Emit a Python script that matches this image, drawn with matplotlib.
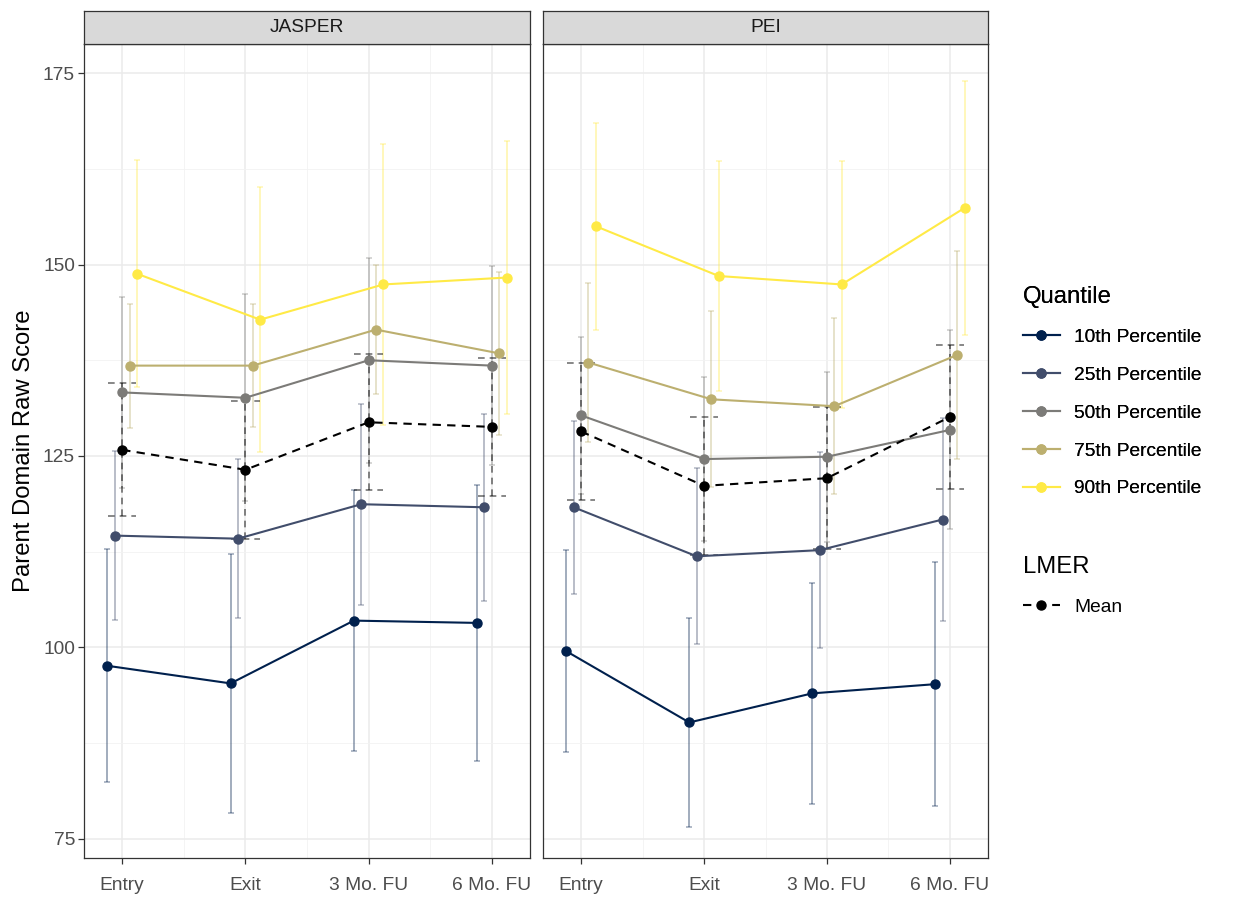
import matplotlib.pyplot as plt
from matplotlib.lines import Line2D
import numpy as np

plt.rcParams['font.family'] = ['Liberation Sans', 'DejaVu Sans']

timepoints = ["Entry", "Exit", "3 Mo. FU", "6 Mo. FU"]
panels = ["JASPER", "PEI"]
quantiles = ["10th Percentile", "25th Percentile", "50th Percentile",
             "75th Percentile", "90th Percentile"]
colors = ["#00204D", "#414D6B", "#7C7B78", "#BCAF6F", "#FFEA46"]

# JASPER: quantile estimates and half-widths of the intervals
jasper_q = [
    [97.6, 95.3, 103.5, 103.2],
    [114.6, 114.2, 118.7, 118.3],
    [133.3, 132.6, 137.5, 136.8],
    [136.8, 136.8, 141.5, 138.4],
    [148.8, 142.8, 147.4, 148.3],
]
jasper_err = [
    [15.2, 16.9, 17.0, 18.0],
    [11.0, 10.4, 13.1, 12.2],
    [12.5, 13.5, 13.4, 13.0],
    [8.1, 8.0, 8.4, 10.6],
    [14.8, 17.3, 18.3, 17.8],
]
jasper_mean = [125.8, 123.2, 129.4, 128.8]
jasper_mean_err = [8.7, 9.0, 8.9, 9.0]

# PEI
pei_q = [
    [99.5, 90.2, 94.0, 95.2],
    [118.3, 111.9, 112.7, 116.7],
    [130.3, 124.6, 124.9, 128.4],
    [137.2, 132.4, 131.5, 138.2],
    [155.0, 148.5, 147.4, 157.4],
]
pei_err = [
    [13.2, 13.7, 14.4, 15.9],
    [11.3, 11.5, 12.8, 13.3],
    [10.3, 10.7, 11.1, 13.0],
    [10.4, 11.5, 11.5, 13.6],
    [13.5, 15.0, 16.1, 16.6],
]
pei_mean = [128.2, 121.1, 122.1, 130.1]
pei_mean_err = [9.0, 9.0, 9.3, 9.4]

offsets = [-0.12, -0.06, 0.0, 0.06, 0.12]

small = 13.8   # ticks, strips, legend labels
large = 17.2   # axis and legend titles

fig = plt.figure(figsize=(12.45, 8.97), dpi=100)
ax1 = fig.add_axes([84 / 1245, 1 - 858 / 897, 446 / 1245, 814 / 897])
ax2 = fig.add_axes([543 / 1245, 1 - 858 / 897, 445 / 1245, 814 / 897], sharey=ax1)

x = np.arange(1, 5)

for ax, name, qv, qe, mv, me in [(ax1, "JASPER", jasper_q, jasper_err, jasper_mean, jasper_mean_err),
                                  (ax2, "PEI", pei_q, pei_err, pei_mean, pei_mean_err)]:
    ax.set_facecolor("white")
    ax.set_xlim(0.69, 4.31)
    ax.set_ylim(72.5, 178.8)
    ax.set_yticks([75, 100, 125, 150, 175])
    ax.set_yticks([87.5, 112.5, 137.5, 162.5], minor=True)
    ax.set_xticks(x)
    ax.set_xticks([1.5, 2.5, 3.5], minor=True)
    ax.set_xticklabels(timepoints)
    ax.grid(which="major", color="#EBEBEB", lw=1.1)
    ax.grid(which="minor", color="#F2F2F2", lw=0.6)
    ax.set_axisbelow(True)
    for s in ax.spines.values():
        s.set_color("#333333")
        s.set_linewidth(0.9)
    ax.tick_params(which="major", length=4.5, width=0.9, color="#333333",
                   labelcolor="#4D4D4D", labelsize=small)
    ax.tick_params(axis="x", pad=9.5)
    ax.tick_params(axis="y", pad=2)
    ax.tick_params(which="minor", length=0)

    # interval bars for each quantile
    for i in range(5):
        xs = x + offsets[i]
        ax.errorbar(xs, qv[i], yerr=qe[i], fmt="none", ecolor=colors[i], alpha=0.4,
                    elinewidth=1.3, capsize=2, capthick=1.1, zorder=2)

    # dashed mean intervals with wide caps
    lo = np.array(mv) - np.array(me)
    hi = np.array(mv) + np.array(me)
    ax.vlines(x, lo, hi, colors="black", alpha=0.55, linestyles=(0, (4, 3)), lw=1.2, zorder=3)
    ax.hlines(lo, x - 0.115, x + 0.115, colors="black", alpha=0.55, linestyles=(0, (4, 3)), lw=1.2, zorder=3)
    ax.hlines(hi, x - 0.115, x + 0.115, colors="black", alpha=0.55, linestyles=(0, (4, 3)), lw=1.2, zorder=3)

    for i in range(5):
        xs = x + offsets[i]
        ax.plot(xs, qv[i], color=colors[i], lw=1.5, marker="o", ms=6.5, zorder=4)

    ax.plot(x, mv, color="black", lw=1.5, ls=(0, (4, 3)), marker="o", ms=6.5, zorder=5)

    # facet strip
    strip = ax.inset_axes([0, 1.0, 1, 33 / 814])
    strip.set_facecolor("#D9D9D9")
    strip.set_xticks([])
    strip.set_yticks([])
    for s in strip.spines.values():
        s.set_color("#333333")
        s.set_linewidth(0.9)
    strip.text(0.5, 0.5, name, ha="center", va="center", fontsize=small, color="#1A1A1A")

ax2.tick_params(axis="y", labelleft=False, length=0)
ax1.set_ylabel("Parent Domain Raw Score", fontsize=large, color="black", labelpad=6)

q_handles = [Line2D([0], [0], color=c, lw=1.5, marker="o", ms=6.5) for c in colors]
leg1 = fig.legend(q_handles, quantiles, loc="upper left", bbox_to_anchor=(1006 / 1245, 1 - 269 / 897),
                  frameon=False, title="Quantile", title_fontsize=large, fontsize=small,
                  handlelength=1.9, handletextpad=0.75, labelspacing=1.065, alignment="left")
m_handle = [Line2D([0], [0], color="black", lw=1.5, ls=(0, (4, 3)), marker="o", ms=6.5)]
leg2 = fig.legend(m_handle, ["Mean"], loc="upper left", bbox_to_anchor=(1006 / 1245, 1 - 539 / 897),
                  frameon=False, title="LMER", title_fontsize=large, fontsize=small,
                  handlelength=1.9, handletextpad=0.75, labelspacing=1.065, alignment="left")
fig.add_artist(leg1)

fig.savefig("out.png", dpi=100)
